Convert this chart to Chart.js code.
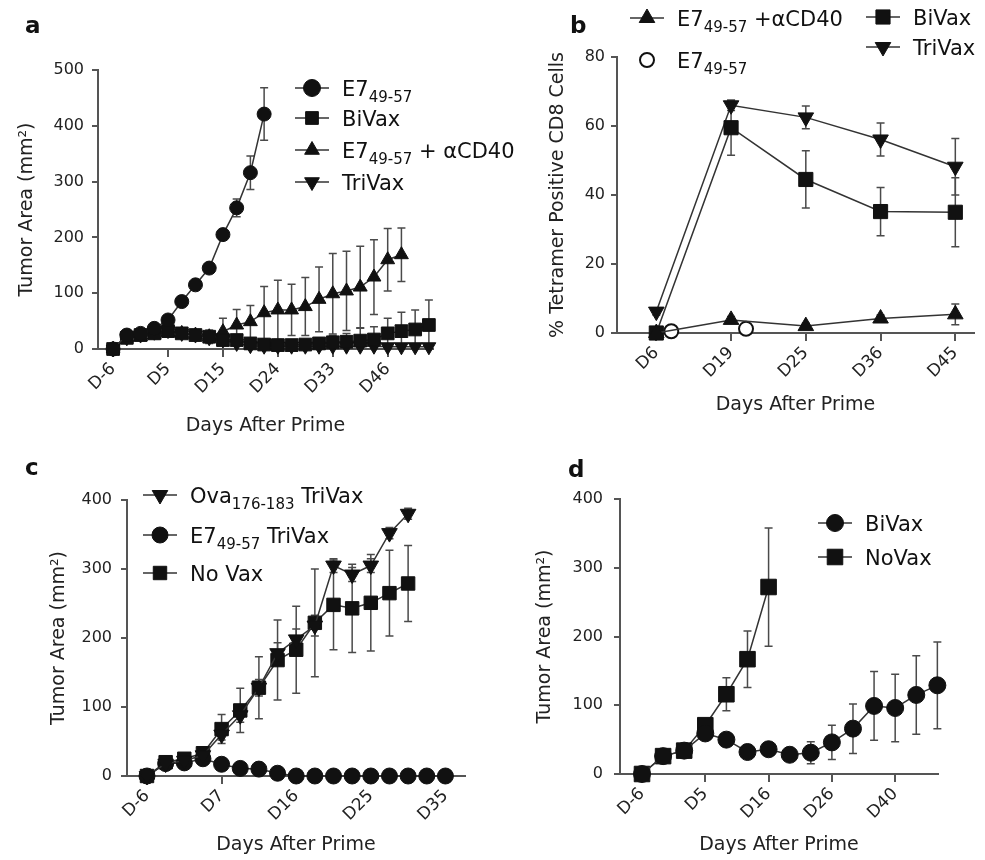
<!DOCTYPE html>
<html>
<head>
<meta charset="utf-8">
<script src="https://cdn.jsdelivr.net/npm/chart.js@4.4.0/dist/chart.umd.min.js"></script>
<style>
  body { margin: 0; background: #fff; }
  #wrap { position: relative; width: 985px; height: 860px; }
  canvas { position: absolute; left: 0; top: 0; }
  .tag { position: absolute; font: bold 23px 'DejaVu Sans', sans-serif; line-height: 23px; color: #111; }
</style>
</head>
<body>
<div id="wrap">
  <canvas id="ca" width="985" height="860"></canvas>
  <canvas id="cb" width="985" height="860"></canvas>
  <canvas id="cc" width="985" height="860"></canvas>
  <canvas id="cd" width="985" height="860"></canvas>
  <div class="tag" style="left:25px;top:14px">a</div>
  <div class="tag" style="left:570px;top:14px">b</div>
  <div class="tag" style="left:25px;top:456px">c</div>
  <div class="tag" style="left:568px;top:458px">d</div>
</div>
<script>
// ---- panel a : tumor area, 24 measurement days ----
const aTickPos = [0, 4, 8, 12, 16, 20];
const aTickLabels = ['D-6', 'D5', 'D15', 'D24', 'D33', 'D46'];
const aE7 = [0, 25, 28, 37, 52, 85, 115, 145, 205, 253, 316, 421];
const aE7Err = [0, 3, 4, 5, 6, 5, 6, 8, 8, 16, 30, 47];
const aBiVax = [0, 20, 25, 28, 32, 28, 25, 22, 16, 16, 10, 8, 7, 7, 8, 10, 12, 13, 15, 17, 28, 32, 35, 43];
const aBiVaxErr = [0, 3, 4, 5, 6, 6, 6, 8, 8, 10, 8, 6, 6, 6, 8, 10, 12, 15, 22, 23, 27, 34, 35, 45];
const aCD40 = [0, 20, 22, 25, 30, 28, 25, 22, 31, 43, 49, 65, 70, 70, 76, 89, 99, 104, 111, 129, 160, 169];
const aCD40Err = [0, 3, 4, 5, 6, 8, 10, 12, 24, 28, 29, 47, 53, 46, 52, 58, 72, 71, 73, 67, 56, 48];
const aTriVax = [0, 20, 25, 30, 33, 28, 25, 20, 16, 10, 6, 5, 5, 5, 5, 5, 5, 5, 5, 5, 4, 4, 4, 4];
const aTriVaxErr = [0, 3, 4, 5, 5, 5, 5, 5, 5, 3, 2, 2, 2, 2, 2, 2, 2, 2, 2, 2, 2, 2, 2, 2];

// ---- panel b : tetramer positive CD8 ----
const bTickPos = [0, 1, 2, 3, 4];
const bTickLabels = ['D6', 'D19', 'D25', 'D36', 'D45'];
const bCD40 = [0, 3.8, 2.0, 4.2, 5.4];
const bCD40Err = [0.5, 1, 0.8, 1, 3];
const bE7 = [0.5, 1.2];
const bBiVax = [0, 59.5, 44.5, 35.2, 35];
const bBiVaxErr = [0.5, 8, 8.3, 7, 10];
const bTriVax = [6.2, 66, 62.5, 56.1, 48.2];
const bTriVaxErr = [1, 1.5, 3.3, 4.8, 8.2];

// ---- panel c ----
const cTickPos = [0, 4, 8, 12, 16];
const cTickLabels = ['D-6', 'D7', 'D16', 'D25', 'D35'];
const cOva = [0, 18, 22, 30, 60, 88, 128, 178, 198, 218, 305, 292, 305, 352, 380];
const cOvaErr = [0, 3, 4, 5, 8, 10, 12, 15, 15, 15, 10, 10, 10, 8, 8];
const cE7 = [0, 18, 19, 25, 17, 11, 10, 4, 0, 0, 0, 0, 0, 0, 0, 0, 0];
const cNoVax = [0, 20, 25, 33, 68, 95, 128, 168, 183, 222, 248, 243, 251, 265, 279];
const cNoVaxErr = [0, 4, 5, 6, 21, 32, 45, 58, 63, 78, 65, 64, 70, 62, 55];

// ---- panel d ----
const dTickPos = [0, 3, 6, 9, 12];
const dTickLabels = ['D-6', 'D5', 'D16', 'D26', 'D40'];
const dBiVax = [0, 26, 34, 59, 50, 32, 36, 28, 31, 46, 66, 99, 96, 115, 129];
const dBiVaxErr = [0, 3, 4, 5, 5, 5, 5, 8, 16, 25, 36, 50, 49, 57, 63];
const dNoVax = [0, 26, 34, 71, 116, 167, 272];
const dNoVaxErr = [0, 3, 4, 6, 24, 41, 86];

Chart.defaults.font.family = "'DejaVu Sans', sans-serif";
Chart.defaults.color = '#222';

// error bars drawn from each dataset's "errors" array, through the y scale
const errorBars = {
  id: 'errorBars',
  beforeDatasetsDraw(chart) {
    const ctx = chart.ctx, ys = chart.scales.y;
    chart.data.datasets.forEach((ds, i) => {
      if (!ds.errors) return;
      const meta = chart.getDatasetMeta(i);
      ctx.save();
      ctx.strokeStyle = '#4a4a4a';
      ctx.lineWidth = 1.5;
      meta.data.forEach((pt, j) => {
        const e = ds.errors[j];
        if (!e) return;
        const v = ds.data[j].y;
        const y1 = ys.getPixelForValue(v + e);
        const y2 = ys.getPixelForValue(Math.max(v - e, 0));
        ctx.beginPath();
        ctx.moveTo(pt.x, y1); ctx.lineTo(pt.x, y2);
        ctx.moveTo(pt.x - 4, y1); ctx.lineTo(pt.x + 4, y1);
        if (v - e > 0) { ctx.moveTo(pt.x - 4, y2); ctx.lineTo(pt.x + 4, y2); }
        ctx.stroke();
      });
      ctx.restore();
    });
  }
};

// in-plot legend with subscripts ("E7|49-57|" -> E7 + subscript 49-57)
const panelLegend = {
  id: 'panelLegend',
  afterDraw(chart, args, opts) {
    const ctx = chart.ctx;
    (opts.items || []).forEach(it => {
      const ds = chart.data.datasets[it.ds];
      ctx.save();
      if (ds.showLine !== false) {
        ctx.strokeStyle = ds.borderColor;
        ctx.lineWidth = ds.borderWidth;
        ctx.beginPath();
        ctx.moveTo(it.x - 17, it.y); ctx.lineTo(it.x + 17, it.y);
        ctx.stroke();
      }
      ctx.fillStyle = ds.pointBackgroundColor;
      ctx.strokeStyle = ds.pointBorderColor;
      ctx.lineWidth = ds.pointBorderWidth;
      Chart.helpers.drawPoint(ctx, {
        pointStyle: ds.pointStyle, rotation: ds.pointRotation || 0,
        radius: it.r || ds.pointRadius, borderWidth: ds.pointBorderWidth
      }, it.x, it.y);
      let tx = it.x + 30;
      const base = it.y + 7.5;
      ctx.fillStyle = '#111';
      ds.label.split('|').forEach((seg, k) => {
        const sub = k % 2 === 1;
        ctx.font = (sub ? 15 : 21) + "px 'DejaVu Sans'";
        ctx.fillText(seg, tx, base + (sub ? 6 : 0));
        tx += ctx.measureText(seg).width;
      });
      ctx.restore();
    });
  }
};

function series(label, vals, errs, style, xOff) {
  return Object.assign({
    label: label,
    errors: errs,
    data: vals.map((v, i) => ({ x: i + (xOff || 0), y: v })),
    borderColor: '#333', borderWidth: 1.5,
    pointBackgroundColor: '#111', pointBorderColor: '#111', pointBorderWidth: 1,
    pointRadius: 7, pointStyle: 'circle', pointRotation: 0,
    tension: 0, clip: false
  }, style);
}

// box: plot edges + centre of the axis titles, in page pixels
function panel(id, box, xr, yr, tickPos, tickLabels, yTitle, datasets, legendItems) {
  const half = 19 * 1.2 / 2;
  const padLeft = box.yTitleX - half;
  const padBottom = 860 - (box.xTitleY + half);
  return new Chart(document.getElementById(id), {
    type: 'line',
    data: { datasets: datasets },
    plugins: [errorBars, panelLegend],
    options: {
      responsive: false,
      animation: false,
      events: [],
      layout: { padding: { left: padLeft, right: 985 - box.right, top: box.top, bottom: padBottom } },
      plugins: {
        legend: { display: false },
        tooltip: { enabled: false },
        panelLegend: { items: legendItems }
      },
      scales: {
        x: {
          type: 'linear', min: xr[0], max: xr[1],
          afterBuildTicks: ax => { ax.ticks = tickPos.map(v => ({ value: v })); },
          afterFit: s => { s.height = box.xTitleY + half - box.bottom; },
          ticks: {
            callback: (v, i) => tickLabels[i],
            minRotation: 45, maxRotation: 45, autoSkip: false,
            font: { size: 17 }, padding: 2, color: '#222'
          },
          grid: { drawOnChartArea: false, drawTicks: true, tickLength: 8, color: '#555', lineWidth: 2 },
          border: { color: '#555', width: 2 },
          title: { display: true, text: 'Days After Prime', font: { size: 19, lineHeight: 1.2 }, padding: 0, color: '#222' }
        },
        y: {
          min: yr[0], max: yr[1],
          afterFit: s => { s.width = box.left - padLeft; },
          ticks: { stepSize: yr[2], font: { size: 16 }, padding: box.tickPad, color: '#222' },
          grid: { drawOnChartArea: false, drawTicks: true, tickLength: 6, color: '#555', lineWidth: 2 },
          border: { color: '#555', width: 2 },
          title: { display: true, text: yTitle, font: { size: 19, lineHeight: 1.2 }, padding: 0, color: '#222' }
        }
      }
    }
  });
}

const TRI = { pointStyle: 'triangle' };
const INV = { pointStyle: 'triangle', pointRotation: 180 };
const SQ = { pointStyle: 'rect' };

panel('ca', { left: 98, right: 433, top: 70, bottom: 349, yTitleX: 27, xTitleY: 426, tickPad: 8 },
  [-1.1, 23.3], [0, 500, 100], aTickPos, aTickLabels, 'Tumor Area (mm²)', [
    series('E7|49-57|', aE7, aE7Err, { pointRadius: 7 }),
    series('BiVax', aBiVax, aBiVaxErr, Object.assign({ pointRadius: 9 }, SQ)),
    series('E7|49-57| + αCD40', aCD40, aCD40Err, Object.assign({ pointRadius: 8 }, TRI)),
    series('TriVax', aTriVax, aTriVaxErr, Object.assign({ pointRadius: 8 }, INV))
  ], [
    { ds: 0, x: 312, y: 88, r: 8.5 },
    { ds: 1, x: 312, y: 118, r: 9 },
    { ds: 2, x: 312, y: 150, r: 8.5 },
    { ds: 3, x: 312, y: 182, r: 8.5 }
  ]);

panel('cb', { left: 617, right: 980, top: 57, bottom: 333, yTitleX: 558, xTitleY: 405, tickPad: 6 },
  [-0.526, 4.25], [0, 80, 20], bTickPos, bTickLabels, '% Tetramer Positive CD8 Cells', [
    series('E7|49-57| +αCD40', bCD40, bCD40Err, Object.assign({ pointRadius: 9 }, TRI)),
    series('E7|49-57|', bE7, null, { pointRadius: 7, showLine: false, pointBackgroundColor: '#fff', pointBorderWidth: 2 }, 0.2),
    series('BiVax', bBiVax, bBiVaxErr, Object.assign({ pointRadius: 10 }, SQ)),
    series('TriVax', bTriVax, bTriVaxErr, Object.assign({ pointRadius: 9 }, INV))
  ], [
    { ds: 0, x: 647, y: 18 },
    { ds: 1, x: 647, y: 60 },
    { ds: 2, x: 883, y: 17 },
    { ds: 3, x: 883, y: 47 }
  ]);

panel('cc', { left: 127, right: 465, top: 500, bottom: 776, yTitleX: 59, xTitleY: 845, tickPad: 9 },
  [-1.072, 17.05], [0, 400, 100], cTickPos, cTickLabels, 'Tumor Area (mm²)', [
    series('Ova|176-183| TriVax', cOva, cOvaErr, Object.assign({ pointRadius: 9 }, INV)),
    series('E7|49-57| TriVax', cE7, null, { pointRadius: 8 }),
    series('No Vax', cNoVax, cNoVaxErr, Object.assign({ pointRadius: 9.5 }, SQ))
  ], [
    { ds: 0, x: 160, y: 495 },
    { ds: 1, x: 160, y: 535 },
    { ds: 2, x: 160, y: 573 }
  ]);

panel('cd', { left: 620, right: 938, top: 499, bottom: 774, yTitleX: 545, xTitleY: 845, tickPad: 11 },
  [-1.043, 14.03], [0, 400, 100], dTickPos, dTickLabels, 'Tumor Area (mm²)', [
    series('BiVax', dBiVax, dBiVaxErr, { pointRadius: 8.5 }),
    series('NoVax', dNoVax, dNoVaxErr, Object.assign({ pointRadius: 11 }, SQ))
  ], [
    { ds: 0, x: 835, y: 523 },
    { ds: 1, x: 835, y: 557 }
  ]);
</script>
</body>
</html>
